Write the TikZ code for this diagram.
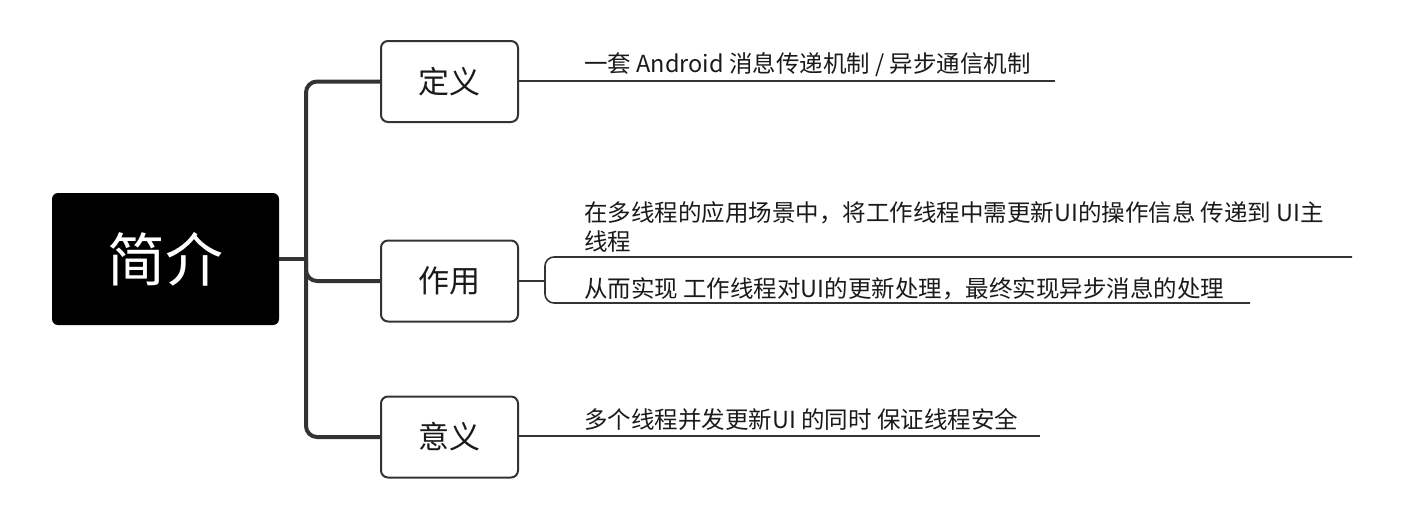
\documentclass[tikz,border=0pt]{standalone}
\usepackage{fontspec}
\setmainfont{Noto Sans CJK SC}
\definecolor{linec}{HTML}{333333}
\definecolor{textc}{HTML}{1A1A1A}
\begin{document}
\begin{tikzpicture}[x=1pt,y=-1pt,
  rootbox/.style={fill=black, rounded corners=6pt, minimum width=227pt, minimum height=132pt, text=white, font=\fontsize{58}{60}\selectfont, inner sep=0pt},
  topicbox/.style={draw=linec, line width=2pt, fill=white, rounded corners=7pt, minimum width=137pt, minimum height=81pt, text=textc, font=\fontsize{31}{34}\selectfont, inner sep=0pt},
  trunk/.style={draw=linec, line width=4pt, rounded corners=11pt},
  twig/.style={draw=linec, line width=1.6pt},
  twigb/.style={draw=linec, line width=1.6pt, rounded corners=9pt},
  label/.style={anchor=base west, font=\fontsize{23.5}{29}\selectfont, inner sep=0pt, text=textc, align=left}
]
\useasboundingbox (0,0) rectangle (1410,504);

% root and topics
\node[rootbox] (root) at (165.5,259) {简介};
\node[topicbox] (def)  at (449.5,81.5) {定义};
\node[topicbox] (use)  at (449.5,281) {作用};
\node[topicbox] (mean) at (449.5,437) {意义};

% trunk connectors
\coordinate (j) at (306,259);
\draw[trunk] (root.east) -- (j);
\draw[trunk] (def.west) -| (j) |- (mean.west);
\draw[trunk] (j) |- (use.west);

% definition
\coordinate (defend) at (1055,81);
\draw[twig] (def.east |- defend) -- (defend);
\node[label] (deftext) at (584,72) {一套 Android 消息传递机制 / 异步通信机制};

% function
\coordinate (ub) at (545,281);
\coordinate (ubt) at (545,257);
\coordinate (ubb) at (545,303);
\coordinate (u1end) at (1352,257);
\coordinate (u2end) at (1250,303);
\draw[twig] (use.east) -- (ub);
\draw[twigb] (u1end) -- (ubt) -- (ubb) -- (u2end);
\node[label] (usetext1) at (584,250) {在多线程的应用场景中，将工作线程中需更新UI的操作信息 传递到 UI主\\线程};
\node[label] (usetext2) at (584,297) {从而实现 工作线程对UI的更新处理，最终实现异步消息的处理};

% meaning
\coordinate (meanend) at (1040,436);
\draw[twig] (mean.east |- meanend) -- (meanend);
\node[label] (meantext) at (584,428) {多个线程并发更新UI 的同时 保证线程安全};
\end{tikzpicture}
\end{document}
